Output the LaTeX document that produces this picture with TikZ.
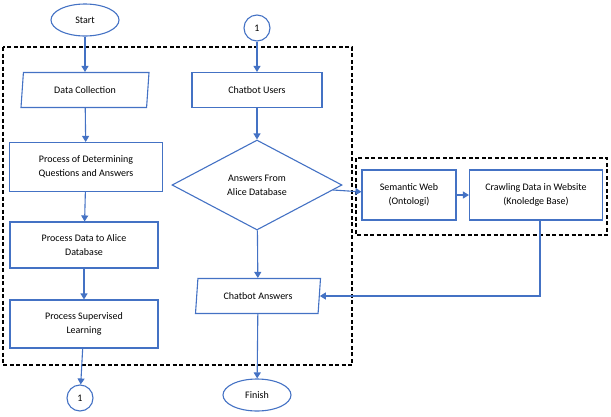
\documentclass[tikz,border=0pt]{standalone}
\usepackage{fontspec}
\setmainfont{Carlito}
\usetikzlibrary{shapes.geometric,arrows.meta}
\definecolor{flowblue}{RGB}{68,114,196}
\tikzset{
    box/.style={
           rectangle,
           draw=flowblue, line width=1.1pt,
           text centered,
           align=center,
           font=\fontsize{10}{14}\selectfont,
           },
    io/.style={box, trapezium, trapezium left angle=80, trapezium right angle=100,
           trapezium stretches body},
    term/.style={box, ellipse},
    conn/.style={box, circle, inner sep=1pt, minimum size=26pt},
    flow/.style={draw=flowblue, line width=1.1pt, -{Triangle[length=6pt,width=7pt]}},
    group/.style={draw=black, line width=1.3pt, dash pattern=on 4pt off 2.5pt},
}
\begin{document}
\begin{tikzpicture}[x=1pt,y=-1pt]
    \useasboundingbox (0,0) rectangle (611,416);
    % dashed groups
    \draw[group] (3,47) rectangle (352,365);
    \draw[group] (356,158) rectangle (607,235);

    % left column
    \node[term, minimum width=68pt, minimum height=32pt] (start) at (85,20) {Start};
    \node[io, minimum width=128pt, minimum height=35pt] (collect) at (85,90) {Data Collection};
    \node[box, minimum width=153pt, minimum height=49pt] (determine) at (86,167)
        {Process of Determining\\Questions and Answers};
    \node[box, minimum width=148pt, minimum height=46pt] (alice) at (84,245)
        {Process Data to Alice\\Database};
    \node[box, minimum width=148pt, minimum height=48pt] (learn) at (84,324)
        {Process Supervised\\Learning};
    \node[conn] (c1bottom) at (80,398) {1};

    % middle column
    \node[conn] (c1top) at (257,28) {1};
    \node[box, minimum width=130pt, minimum height=35pt] (users) at (257,90) {Chatbot Users};
    \node[box, diamond, aspect=1.9, minimum width=170pt, minimum height=90pt, inner sep=0pt] (answers) at (257,185)
        {Answers From\\Alice Database};
    \node[io, minimum width=125pt, minimum height=35pt] (reply) at (258,296) {Chatbot Answers};
    \node[term, minimum width=68pt, minimum height=32pt] (finish) at (257,395) {Finish};

    % right group
    \node[box, minimum width=94pt, minimum height=50pt] (semantic) at (409,195)
        {Semantic Web\\(Ontologi)};
    \node[box, minimum width=133pt, minimum height=50pt] (crawl) at (536,195)
        {Crawling Data in Website\\(Knoledge Base)};

    % connectors
    \draw[flow] (start) -- (collect);
    \draw[flow] (collect) -- (determine);
    \draw[flow] (determine) -- (alice);
    \draw[flow] (alice) -- (learn);
    \draw[flow] (learn) -- (c1bottom);
    \draw[flow] (c1top) -- (users);
    \draw[flow] (users) -- (answers);
    \draw[flow] (answers) -- (reply);
    \draw[flow] (reply) -- (finish);
    \draw[flow] (answers) -- (semantic);
    \draw[flow] (semantic) -- (crawl);
    \draw[flow] (crawl.south) ++(4,0) |- (reply.east);
\end{tikzpicture}
\end{document}
